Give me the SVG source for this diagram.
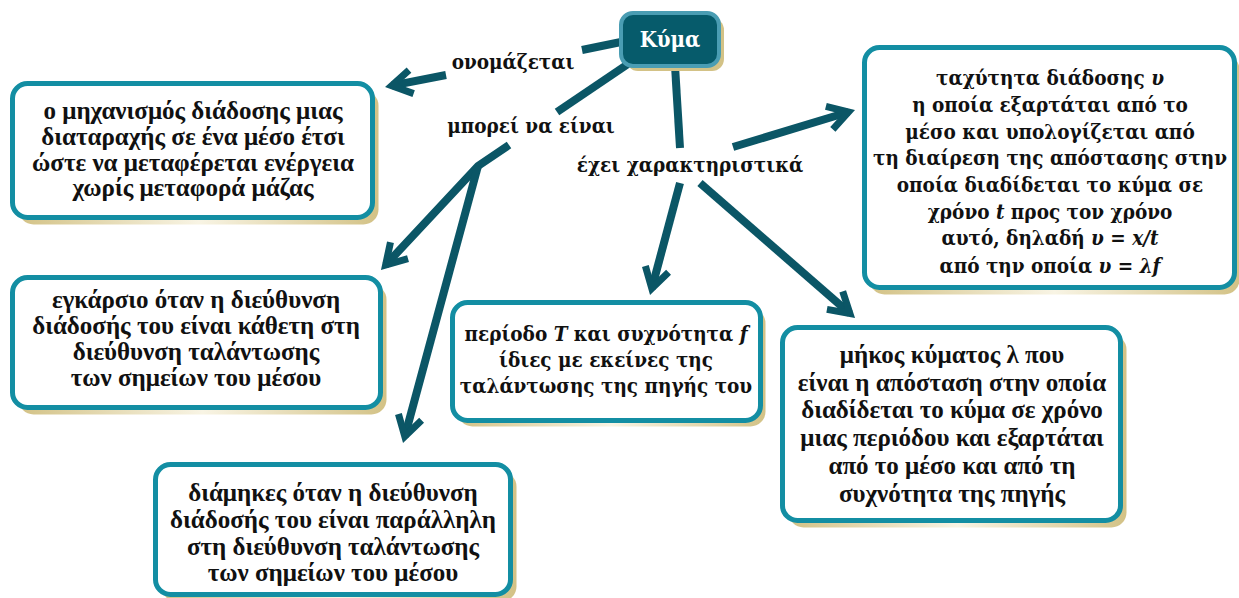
<svg xmlns="http://www.w3.org/2000/svg" width="1239" height="598" viewBox="0 0 1239 598">
<style>
.box{fill:#ffffff;stroke:#138ea3;stroke-width:5}
.sh{fill:url(#shg)}
.t{font-family:"Liberation Serif",serif;font-weight:bold;font-size:25px;fill:#111;text-anchor:middle}
.c{font-family:"DejaVu Serif Condensed","DejaVu Serif",serif;font-stretch:condensed;font-weight:bold;font-size:20.5px;fill:#111;text-anchor:middle}
.i{font-style:italic}
.ln{fill:none;stroke:#0b5666;stroke-width:8;stroke-linejoin:miter}
.ar{marker-end:url(#ah)}
</style>
<defs>
<linearGradient id="shg" x1="0" y1="0" x2="1" y2="0">
<stop offset="0" stop-color="#d3c286"/>
<stop offset="0.5" stop-color="#f8f4e4"/>
<stop offset="1" stop-color="#d3c286"/>
</linearGradient>
<marker id="ah" markerUnits="userSpaceOnUse" orient="auto" markerWidth="60" markerHeight="60" refX="0" refY="0" viewBox="-30 -30 60 60" overflow="visible">
<path d="M-20,-12 L0,0 L-20,12" fill="none" stroke="#0b5666" stroke-width="7" stroke-linejoin="miter"/>
</marker>
</defs>
<rect width="1239" height="598" fill="#ffffff"/>

<g id="connectors">
<path class="ln" d="M621,42 L582,50"/>
<path class="ln ar" d="M446,75 L391.7,85.7"/>
<path class="ln" d="M628,64 L557,112"/>
<path class="ln ar" d="M509,145 L478,166 L385.6,265"/>
<path class="ln ar" d="M478,166 L404.8,436.4"/>
<path class="ln" d="M675,66 L680,148"/>
<path class="ln ar" d="M680,183 L651.8,288.4"/>
<path class="ln ar" d="M733,147 L848.5,112"/>
<path class="ln ar" d="M700,183 L849.9,313.5"/>
</g>

<g id="label-onomazetai"><text class="c" x="513" y="69">ονομάζεται</text></g>
<g id="label-mporei"><text class="c" x="531" y="133">μπορεί να είναι</text></g>
<g id="label-exei"><text class="c" x="690" y="172">έχει χαρακτηριστικά</text></g>

<g id="node-kyma">
<rect x="626" y="18" width="98" height="53" rx="12" fill="#d3c286"/>
<rect x="621" y="13" width="98" height="53" rx="12" fill="#065b6b" stroke="#4a9db3" stroke-width="4"/>
<text class="c" x="670" y="47" style="fill:#ffffff;font-size:22px">Κύμα</text>
</g>

<g id="node-definition">
<rect class="sh" x="18.5" y="90.5" width="360" height="134" rx="15"/>
<rect class="box" x="12.5" y="83.5" width="360" height="134" rx="15"/>
<text class="t" x="193" y="119">ο μηχανισμός διάδοσης μιας</text>
<text class="t" x="193" y="145">διαταραχής σε ένα μέσο έτσι</text>
<text class="t" x="193" y="171">ώστε να μεταφέρεται ενέργεια</text>
<text class="t" x="193" y="196">χωρίς μεταφορά μάζας</text>
</g>

<g id="node-transverse">
<rect class="sh" x="18.5" y="284.5" width="368" height="130" rx="15"/>
<rect class="box" x="12.5" y="277.5" width="368" height="130" rx="15"/>
<text class="t" x="196" y="308">εγκάρσιο όταν η διεύθυνση</text>
<text class="t" x="196" y="334">διάδοσής του είναι κάθετη στη</text>
<text class="t" x="196" y="360">διεύθυνση ταλάντωσης</text>
<text class="t" x="196" y="386">των σημείων του μέσου</text>
</g>

<g id="node-longitudinal">
<rect class="sh" x="161.5" y="471.5" width="355" height="130" rx="15"/>
<rect class="box" x="155.5" y="464.5" width="355" height="130" rx="15"/>
<text class="t" x="333" y="501">διάμηκες όταν η διεύθυνση</text>
<text class="t" x="333" y="528">διάδοσής του είναι παράλληλη</text>
<text class="t" x="333" y="555">στη διεύθυνση ταλάντωσης</text>
<text class="t" x="333" y="581">των σημείων του μέσου</text>
</g>

<g id="node-period">
<rect class="sh" x="457.5" y="308.5" width="308" height="118" rx="15"/>
<rect class="box" x="452.5" y="302.5" width="308" height="118" rx="15"/>
<text class="c" x="606" y="341">περίοδο <tspan class="i">T</tspan> και συχνότητα <tspan class="i">f</tspan></text>
<text class="c" x="606" y="367">ίδιες με εκείνες της</text>
<text class="c" x="606" y="393">ταλάντωσης της πηγής του</text>
</g>

<g id="node-speed">
<rect class="sh" x="869.5" y="54.5" width="370" height="240" rx="15"/>
<rect class="box" x="864.5" y="47.5" width="370" height="240" rx="15"/>
<text class="c" x="1050" y="85">ταχύτητα διάδοσης <tspan class="i">υ</tspan></text>
<text class="c" x="1050" y="112">η οποία εξαρτάται από το</text>
<text class="c" x="1050" y="139">μέσο και υπολογίζεται από</text>
<text class="c" x="1050" y="165">τη διαίρεση της απόστασης στην</text>
<text class="c" x="1050" y="192">οποία διαδίδεται το κύμα σε</text>
<text class="c" x="1050" y="219">χρόνο <tspan class="i">t</tspan> προς τον χρόνο</text>
<text class="c" x="1050" y="245">αυτό, δηλαδή <tspan class="i">υ = x/t</tspan></text>
<text class="c" x="1050" y="273">από την οποία <tspan class="i">υ = λf</tspan></text>
</g>

<g id="node-wavelength">
<rect class="sh" x="788.5" y="334.5" width="338" height="193" rx="15"/>
<rect class="box" x="782.5" y="327.5" width="338" height="193" rx="15"/>
<text class="t" x="952" y="363">μήκος κύματος λ που</text>
<text class="t" x="952" y="391">είναι η απόσταση στην οποία</text>
<text class="t" x="952" y="418">διαδίδεται το κύμα σε χρόνο</text>
<text class="t" x="952" y="446">μιας περιόδου και εξαρτάται</text>
<text class="t" x="952" y="474">από το μέσο και από τη</text>
<text class="t" x="952" y="502">συχνότητα της πηγής</text>
</g>
</svg>
